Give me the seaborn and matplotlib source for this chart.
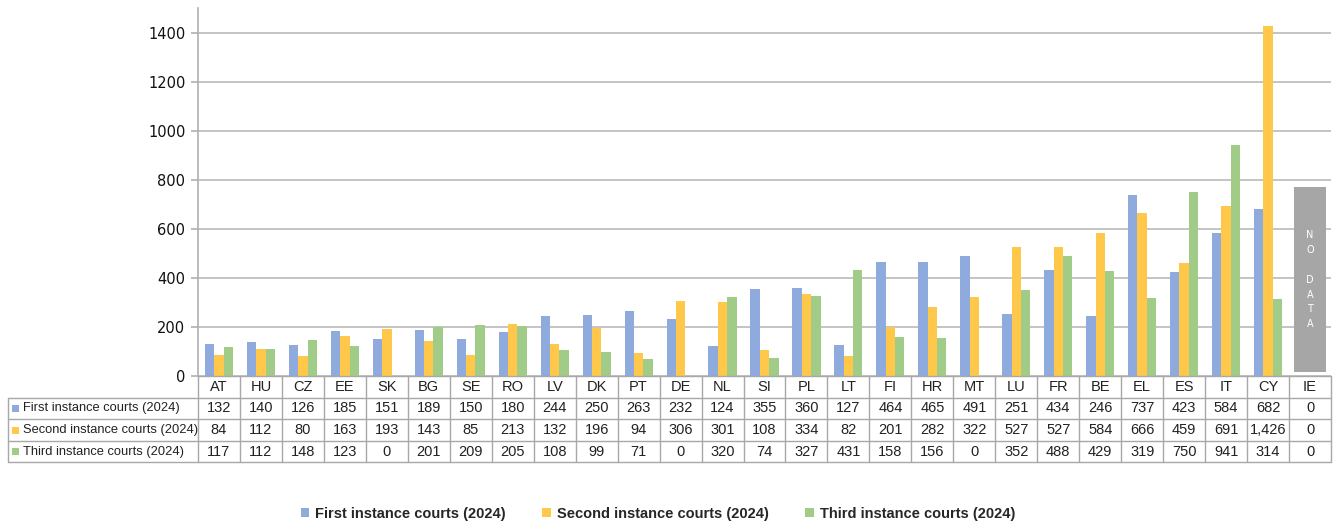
import numpy as np
import pandas as pd
import matplotlib
matplotlib.use("Agg")
import matplotlib.pyplot as plt
from matplotlib.patches import Rectangle
from matplotlib.lines import Line2D
import seaborn as sns

countries = ["AT", "HU", "CZ", "EE", "SK", "BG", "SE", "RO", "LV", "DK", "PT", "DE", "NL", "SI",
             "PL", "LT", "FI", "HR", "MT", "LU", "FR", "BE", "EL", "ES", "IT", "CY", "IE"]
first_instance = [132, 140, 126, 185, 151, 189, 150, 180, 244, 250, 263, 232, 124, 355,
                  360, 127, 464, 465, 491, 251, 434, 246, 737, 423, 584, 682, 0]
second_instance = [84, 112, 80, 163, 193, 143, 85, 213, 132, 196, 94, 306, 301, 108,
                   334, 82, 201, 282, 322, 527, 527, 584, 666, 459, 691, 1426, 0]
third_instance = [117, 112, 148, 123, 0, 201, 209, 205, 108, 99, 71, 0, 320, 74,
                  327, 431, 158, 156, 0, 352, 488, 429, 319, 750, 941, 314, 0]
series_names = ["First instance courts (2024)", "Second instance courts (2024)",
                "Third instance courts (2024)"]
no_data_country = "IE"
no_data_height = 770
yticks = [0, 200, 400, 600, 800, 1000, 1200, 1400]

colors = ["#8FAADC", "#FFC84A", "#A1CC88"]

df = pd.DataFrame({
    "country": countries * 3,
    "series": [series_names[0]] * len(countries) + [series_names[1]] * len(countries)
              + [series_names[2]] * len(countries),
    "value": first_instance + second_instance + third_instance,
})

sns.set_style("white")
plt.rcParams["font.family"] = ["DejaVu Sans"]
NARROW = ["Liberation Sans Narrow", "Liberation Sans", "DejaVu Sans"]

W, H = 1336, 525
fig = plt.figure(figsize=(W / 100, H / 100), dpi=100)

ax_l, ax_r, ax_b, ax_t = 198, 1331, 376, 8
ax = fig.add_axes([ax_l / W, 1 - ax_b / H, (ax_r - ax_l) / W, (ax_b - ax_t) / H])

sns.barplot(data=df, x="country", y="value", hue="series", order=countries,
            hue_order=series_names, palette=colors, saturation=1, width=0.67,
            ax=ax, legend=False, zorder=3, linewidth=0, edgecolor="none")

ax.set_ylim(0, 1500)
ax.set_xlim(-0.5, len(countries) - 0.5)
ax.set_yticks(yticks)
ax.set_yticklabels([str(v) for v in yticks], fontsize=10.5, color="#111111",
                   family="DejaVu Sans")
ax.yaxis.grid(True, color="#C4C4C4", linewidth=1.4, zorder=0)
ax.set_axisbelow(True)
ax.set_xlabel("")
ax.set_ylabel("")
ax.set_xticks([])
for s in ["top", "right", "bottom"]:
    ax.spines[s].set_visible(False)
ax.spines["left"].set_color("#B0B0B0")
ax.spines["left"].set_linewidth(1.2)
ax.tick_params(axis="y", length=5, color="#B0B0B0", width=1.2, pad=4, left=True)

# No data box
idx = countries.index(no_data_country)
ax.add_patch(Rectangle((idx - 0.39, 15), 0.78, no_data_height - 15,
                       facecolor="#A6A6A6", edgecolor="none", zorder=4))
ax.text(idx, (no_data_height + 15) / 2, "N\nO\n\nD\nA\nT\nA", ha="center", va="center",
        color="white", fontsize=7, linespacing=1.6, zorder=5, family="DejaVu Sans")

# Data table drawn below the axes (figure pixel coordinates)
def fx(x):
    return x / W

def fy(y):
    return 1 - y / H

line_kw = dict(color="#A8A8A8", linewidth=1.0, transform=fig.transFigure)
rows_y = [376, 398, 419, 441, 462]
tab_left = 8
col_w = (ax_r - ax_l) / len(countries)

fig.add_artist(Line2D([fx(ax_l), fx(ax_r)], [fy(rows_y[0])] * 2, **line_kw))
for y in rows_y[1:]:
    fig.add_artist(Line2D([fx(tab_left), fx(ax_r)], [fy(y)] * 2, **line_kw))
fig.add_artist(Line2D([fx(tab_left)] * 2, [fy(rows_y[1]), fy(rows_y[-1])], **line_kw))
for k in range(len(countries) + 1):
    x = ax_l + k * col_w
    fig.add_artist(Line2D([fx(x)] * 2, [fy(rows_y[0]), fy(rows_y[-1])], **line_kw))

tfs = 10.5
for k, c in enumerate(countries):
    xc = ax_l + (k + 0.5) * col_w
    fig.text(fx(xc), fy((rows_y[0] + rows_y[1]) / 2), c, ha="center", va="center",
             fontsize=tfs, color="#222222", family=NARROW)

all_series = [first_instance, second_instance, third_instance]
for r, (name, vals, col) in enumerate(zip(series_names, all_series, colors)):
    yc = (rows_y[r + 1] + rows_y[r + 2]) / 2
    fig.add_artist(Rectangle((fx(12), fy(yc + 3.5)), 7 / W, 7 / H, facecolor=col,
                             edgecolor="none", transform=fig.transFigure))
    fig.text(fx(23), fy(yc), name, ha="left", va="center", fontsize=9.3, color="#222222",
             family=NARROW)
    for k, v in enumerate(vals):
        xc = ax_l + (k + 0.5) * col_w
        fig.text(fx(xc), fy(yc), f"{v:,}", ha="center", va="center", fontsize=tfs,
                 color="#222222", family=NARROW)

# legend
handles = [Rectangle((0, 0), 1, 1, facecolor=c, edgecolor="none") for c in colors]
leg = fig.legend(handles, series_names, loc="center", bbox_to_anchor=(fx(658), fy(514)),
                 ncol=3, frameon=False, handlelength=0.6, handleheight=0.6,
                 handletextpad=0.4, columnspacing=2.5,
                 prop={"weight": "bold", "size": 10.5, "family": NARROW})

fig.savefig("out.png", dpi=100)
